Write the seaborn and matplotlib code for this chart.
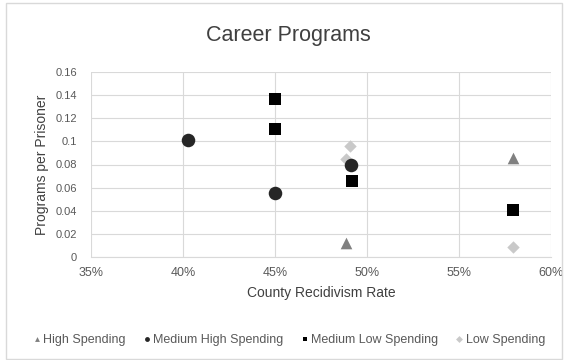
import matplotlib
matplotlib.use("Agg")
import matplotlib.pyplot as plt
from matplotlib.lines import Line2D
from matplotlib.patches import Rectangle
from matplotlib.ticker import FuncFormatter, MultipleLocator
import pandas as pd
import seaborn as sns

# Recidivism rate (%) and career programs per prisoner, by spending tier
high_x = [48.85, 57.95]
high_y = [0.012, 0.086]

med_high_x = [40.25, 45.0, 49.15]
med_high_y = [0.101, 0.055, 0.080]

med_low_x = [45.0, 45.0, 49.2, 57.95]
med_low_y = [0.137, 0.111, 0.066, 0.041]

low_x = [49.1, 48.85, 57.95]
low_y = [0.096, 0.085, 0.009]

series = ["High Spending", "Medium High Spending", "Medium Low Spending", "Low Spending"]

frames = []
for name, xs, ys in [
    (series[0], high_x, high_y),
    (series[1], med_high_x, med_high_y),
    (series[2], med_low_x, med_low_y),
    (series[3], low_x, low_y),
]:
    frames.append(pd.DataFrame({"rate": xs, "programs": ys, "tier": name}))
df = pd.concat(frames, ignore_index=True)

sns.set_style("white")
plt.rcParams["font.family"] = ["Liberation Sans", "DejaVu Sans"]

colors = {
    "High Spending": "#808080",
    "Medium High Spending": "#262626",
    "Medium Low Spending": "#000000",
    "Low Spending": "#c9c9c9",
}
markers = {
    "High Spending": "^",
    "Medium High Spending": "o",
    "Medium Low Spending": "s",
    "Low Spending": "D",
}
sizes = {
    "High Spending": 70,
    "Medium High Spending": 95,
    "Medium Low Spending": 80,
    "Low Spending": 40,
}

fig = plt.figure(figsize=(5.77, 3.6), dpi=100)
fig.patches.append(Rectangle((6 / 577, 1 / 360), 556 / 577, 356 / 360,
                             transform=fig.transFigure, fill=False,
                             edgecolor="#d9d9d9", linewidth=1.0))
ax = fig.add_axes([91 / 577, 1 - 257 / 360, (551 - 91) / 577, (257 - 72) / 360])

# draw order: low spending under the darker tiers
for name in ["Low Spending", "High Spending", "Medium Low Spending", "Medium High Spending"]:
    sub = df[df["tier"] == name]
    sns.scatterplot(data=sub, x="rate", y="programs", ax=ax, color=colors[name],
                    marker=markers[name], s=sizes[name], linewidth=0, legend=False,
                    zorder=3)

ax.set_xlim(35, 60)
ax.set_ylim(0, 0.16)
ax.xaxis.set_major_locator(MultipleLocator(5))
ax.yaxis.set_major_locator(MultipleLocator(0.02))
ax.xaxis.set_major_formatter(FuncFormatter(lambda v, p: f"{v:.0f}%"))
ax.yaxis.set_major_formatter(FuncFormatter(lambda v, p: "0" if abs(v) < 1e-9 else f"{v:.2f}".rstrip("0")))
ax.grid(True, color="#d9d9d9", linewidth=0.8)
ax.set_axisbelow(True)
for side in ["top", "right", "left"]:
    ax.spines[side].set_visible(False)
ax.spines["bottom"].set_color("#d9d9d9")
ax.tick_params(axis="x", length=0, labelsize=9, labelcolor="#595959", pad=7)
ax.tick_params(axis="y", length=0, labelsize=8, labelcolor="#595959", pad=10)

ax.set_xlabel("County Recidivism Rate", fontsize=10, color="#404040", labelpad=5)
ax.set_ylabel("Programs per Prisoner", fontsize=10, color="#404040", labelpad=5)

fig.text(0.5, 1 - 35 / 360, "Career Programs", ha="center", va="center",
         fontsize=15.5, color="#404040")

handles = [Line2D([], [], linestyle="none", marker=markers[n], color=colors[n],
                  markersize=3.5, markeredgewidth=0) for n in series]
fig.legend(handles, series, loc="center", bbox_to_anchor=(0.5, 1 - 340 / 360),
           ncol=4, frameon=False, fontsize=9, labelcolor="#595959",
           handletextpad=0.1, columnspacing=1.3, handlelength=0.8)

fig.savefig("out.png", dpi=100, facecolor="white")
